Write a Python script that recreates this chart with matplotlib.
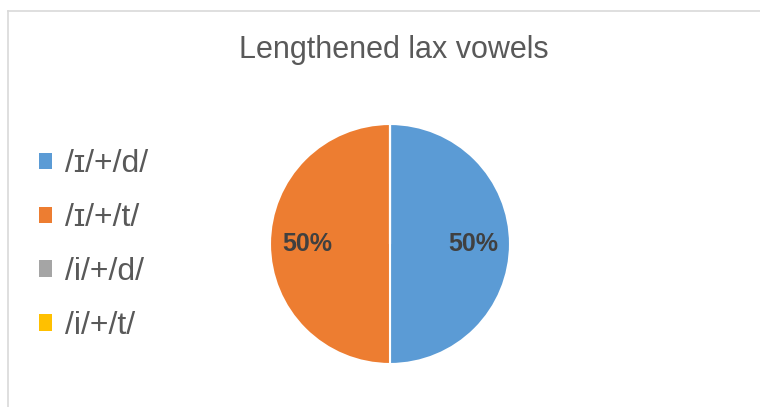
import matplotlib
matplotlib.use("Agg")
import matplotlib.pyplot as plt
from matplotlib.patches import Patch
from matplotlib.lines import Line2D

title = "Lengthened lax vowels"
categories = ["/ɪ/+/d/", "/ɪ/+/t/", "/i/+/d/", "/i/+/t/"]
values = [1, 1, 0, 0]
colors = ["#5B9BD5", "#ED7D31", "#A5A5A5", "#FFC000"]

plt.rcParams['font.family'] = ['Liberation Sans', 'DejaVu Sans']

W, H = 760, 407
fig = plt.figure(figsize=(W / 100, H / 100), dpi=100)

# chart border (top and left visible)
fig.add_artist(Line2D([8 / W, 8 / W], [0, 1 - 11 / H], color="#d9d9d9", lw=1.2))
fig.add_artist(Line2D([8 / W, 1], [1 - 11 / H, 1 - 11 / H], color="#d9d9d9", lw=1.2))

fig.text(394 / W, 1 - 50 / H, title, ha="center", va="center", fontsize=22, color="#595959")

cx, cy, r = 390, 244, 120
ax = fig.add_axes([(cx - r) / W, (H - cy - r) / H, 2 * r / W, 2 * r / H])

def fmt(p):
    return f"{p:.0f}%" if p > 0 else ""

wedges, texts, autotexts = ax.pie(values, colors=colors, startangle=90, counterclock=False,
                                  autopct=fmt, pctdistance=0.69,
                                  wedgeprops=dict(edgecolor="white", linewidth=1.5),
                                  textprops=dict(color="#404040", fontsize=18, fontweight="bold"))
ax.set_xlim(-1, 1)
ax.set_ylim(-1, 1)
ax.set_aspect("equal")
ax.axis("off")

handles = [Patch(facecolor=c, edgecolor="none") for c in colors]
fig.legend(handles, categories, loc="center left", bbox_to_anchor=(39 / W, 1 - 245 / H),
           frameon=False, fontsize=23, labelcolor="#595959", borderpad=0, borderaxespad=0,
           handlelength=0.4, handleheight=0.4, handletextpad=0.4, labelspacing=0.75)

fig.savefig("out.png", dpi=100, facecolor="white")
